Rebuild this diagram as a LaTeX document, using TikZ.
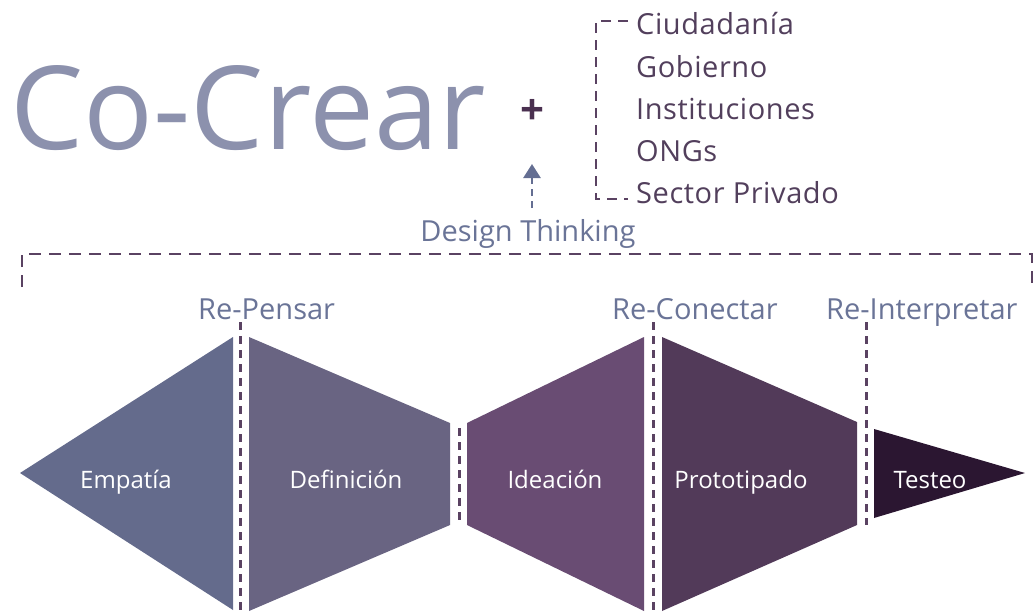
\documentclass[tikz,border=0pt]{standalone}
\usepackage{fontspec}
\setmainfont{Open Sans}
\newfontfamily\listfont[LetterSpace=2]{Open Sans}
\usetikzlibrary{arrows.meta}
\definecolor{cCo}{HTML}{8C91AD}
\definecolor{cLab}{HTML}{6A7497}
\definecolor{cList}{HTML}{523F5C}
\definecolor{cDash}{HTML}{5A4262}
\definecolor{cPlus}{HTML}{4A3050}
\definecolor{cArr}{HTML}{646E92}
\definecolor{cEmp}{HTML}{646B8C}
\definecolor{cDef}{HTML}{696482}
\definecolor{cIde}{HTML}{694C73}
\definecolor{cPro}{HTML}{523A59}
\definecolor{cTes}{HTML}{2B1631}
\begin{document}
\begin{tikzpicture}[x=1pt,y=-1pt,
  lab/.style={inner sep=0pt,anchor=base west,text=cLab,font=\fontsize{29}{34}\selectfont},
  listtxt/.style={inner sep=0pt,anchor=base west,text=cList,font=\listfont\fontsize{29}{34}\selectfont},
  steplab/.style={inner sep=0pt,anchor=base,text=white,font=\fontsize{24}{28}\selectfont},
  sepline/.style={draw=cDash,line width=3pt,dash pattern=on 8pt off 6pt},
  bigbrk/.style={draw=cDash,line width=2.8pt,dash pattern=on 12pt off 8pt},
  listbrk/.style={draw=cDash,line width=2.8pt,dash pattern=on 10pt off 7pt},
  arr/.style={draw=cArr,line width=2.6pt,dash pattern=on 7pt off 5pt,-{Triangle[width=17pt,length=14pt]}}]
\useasboundingbox (0,0) rectangle (1034,611);

% title
\node[inner sep=0pt,anchor=base west,text=cCo,font=\fontsize{116}{120}\selectfont] (title) at (10,149) {Co-Crear};
\node[inner sep=0pt,text=cPlus,font=\bfseries\fontsize{42}{44}\selectfont] (plus) at (532,112) {+};

% list
\draw[listbrk] (628,21) -- (596,21) -- (596,199) -- (628,199);
\node[listtxt] (l1) at (636,34) {Ciudadanía};
\node[listtxt] (l2) at (636,77) {Gobierno};
\node[listtxt] (l3) at (636,119) {Instituciones};
\node[listtxt] (l4) at (636,161) {ONGs};
\node[listtxt] (l5) at (636,203) {Sector Privado};

% design thinking
\node[inner sep=0pt,anchor=base,text=cLab,font=\fontsize{29}{34}\selectfont] (dt) at (528,241) {Design Thinking};
\coordinate (arrS) at (532,208);
\coordinate (arrE) at (532,164);
\draw[arr] (arrS) -- (arrE);

% big bracket
\draw[bigbrk] (22,287) -- (22,254) -- (1032,254) -- (1032,283);

% shapes
\fill[cEmp] (20,473) -- (233,337) -- (233,610) -- cycle;
\fill[cDef] (249,337) -- (450,423) -- (450,525) -- (249,611) -- cycle;
\fill[cIde] (467,423) -- (644,337) -- (644,611) -- (467,525) -- cycle;
\fill[cPro] (662,337) -- (857,422) -- (857,525) -- (662,611) -- cycle;
\fill[cTes] (874,429) -- (1025,473) -- (874,518) -- cycle;

% separators
\draw[sepline] (240,322) -- (240,611);
\draw[sepline] (459,428) -- (459,525);
\draw[sepline] (653,322) -- (653,611);
\draw[sepline] (866,322) -- (866,525);

% top labels
\node[lab] (rp) at (198,319) {Re-Pensar};
\node[lab] (rc) at (612,319) {Re-Conectar};
\node[lab] (ri) at (826,319) {Re-Interpretar};

% step labels
\node[steplab] (emp) at (126,488) {Empatía};
\node[steplab] (def) at (346,488) {Definición};
\node[steplab] (ide) at (555,488) {Ideación};
\node[steplab] (pro) at (741,488) {Prototipado};
\node[steplab] (tes) at (930,488) {Testeo};
\end{tikzpicture}
\end{document}
